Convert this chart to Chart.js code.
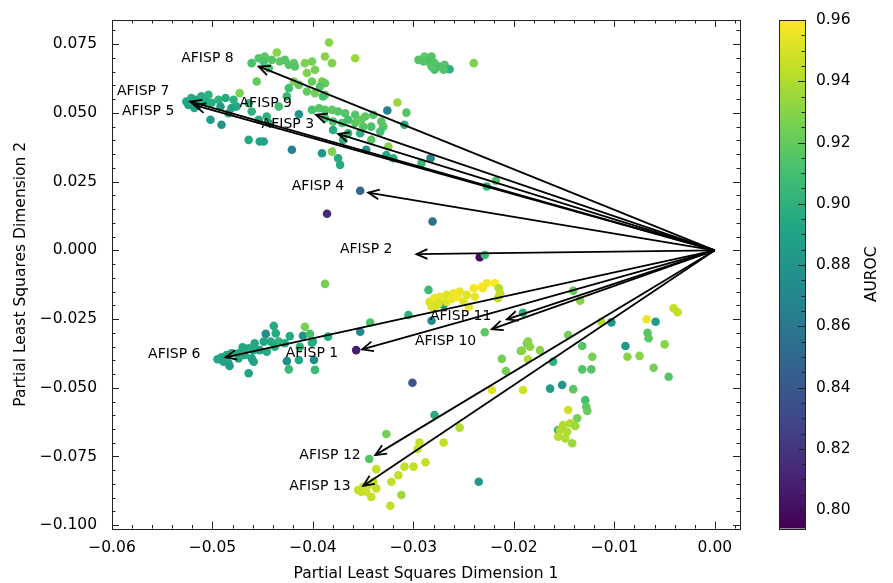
<!DOCTYPE html>
<html>
<head>
<meta charset="utf-8">
<script src="https://cdn.jsdelivr.net/npm/chart.js@4.4.1/dist/chart.umd.min.js"></script>
<style>
  html, body { margin: 0; padding: 0; background: #fff; }
  #wrap { width: 893px; height: 583px; }
</style>
</head>
<body>
<div id="wrap"><canvas id="pls" width="893" height="583"></canvas></div>
<script>
// PLS scores of every model (dimension 1, dimension 2) and its AUROC
const dim1 = [
  -0.0384, -0.0461, -0.0454, -0.0448, -0.0449, -0.0441, -0.0436, -0.0433, -0.0428, -0.0424,
  -0.0419, -0.0418, -0.0456, -0.0444, -0.0408, -0.0401, -0.0398, -0.0388, -0.0381, -0.0406,
  -0.0401, -0.0391, -0.0406, -0.0398, -0.0388, -0.0424, -0.0426, -0.0419, -0.0414, -0.0358,
  -0.0388, -0.0393, -0.0390, -0.0295, -0.0289, -0.0282, -0.0285, -0.0279, -0.0274, -0.0269,
  -0.0279, -0.0264, -0.0240, -0.0290, -0.0282, -0.0270, -0.0526, -0.0521, -0.0516, -0.0511,
  -0.0504, -0.0524, -0.0514, -0.0507, -0.0494, -0.0487, -0.0479, -0.0473, -0.0492, -0.0484,
  -0.0502, -0.0491, -0.0476, -0.0464, -0.0461, -0.0454, -0.0446, -0.0444, -0.0464, -0.0453,
  -0.0449, -0.0421, -0.0391, -0.0381, -0.0375, -0.0373, -0.0414, -0.0434, -0.0518, -0.0501,
  -0.0481, -0.0401, -0.0394, -0.0388, -0.0381, -0.0375, -0.0368, -0.0388, -0.0380, -0.0371,
  -0.0365, -0.0365, -0.0358, -0.0348, -0.0340, -0.0332, -0.0342, -0.0350, -0.0358, -0.0330,
  -0.0333, -0.0352, -0.0380, -0.0370, -0.0353, -0.0342, -0.0325, -0.0347, -0.0327, -0.0320,
  -0.0316, -0.0326, -0.0307, -0.0309, -0.0292, -0.0283, -0.0227, -0.0218, -0.0353, -0.0386,
  -0.0281, -0.0234, -0.0229, -0.0388, -0.0285, -0.0270, -0.0282, -0.0284, -0.0279, -0.0274,
  -0.0267, -0.0260, -0.0254, -0.0247, -0.0240, -0.0232, -0.0227, -0.0219, -0.0215, -0.0214,
  -0.0239, -0.0250, -0.0245, -0.0267, -0.0275, -0.0282, -0.0231, -0.0216, -0.0262, -0.0256,
  -0.0278, -0.0305, -0.0343, -0.0353, -0.0385, -0.0229, -0.0400, -0.0357, -0.0439, -0.0447,
  -0.0437, -0.0423, -0.0408, -0.0410, -0.0403, -0.0442, -0.0434, -0.0428, -0.0438, -0.0449,
  -0.0458, -0.0453, -0.0446, -0.0459, -0.0464, -0.0470, -0.0474, -0.0481, -0.0486, -0.0491,
  -0.0495, -0.0489, -0.0484, -0.0483, -0.0474, -0.0468, -0.0461, -0.0459, -0.0464, -0.0426,
  -0.0424, -0.0414, -0.0399, -0.0398, -0.0413, -0.0401, -0.0301, -0.0279, -0.0327, -0.0344,
  -0.0254, -0.0270, -0.0294, -0.0296, -0.0288, -0.0300, -0.0309, -0.0315, -0.0322, -0.0337,
  -0.0312, -0.0323, -0.0342, -0.0355, -0.0350, -0.0345, -0.0340, -0.0337, -0.0347, -0.0352,
  -0.0235, -0.0222, -0.0208, -0.0212, -0.0193, -0.0191, -0.0187, -0.0141, -0.0134, -0.0191,
  -0.0113, -0.0103, -0.0146, -0.0186, -0.0184, -0.0192, -0.0174, -0.0186, -0.0161, -0.0132,
  -0.0122, -0.0132, -0.0123, -0.0164, -0.0152, -0.0141, -0.0129, -0.0128, -0.0127, -0.0146,
  -0.0137, -0.0156, -0.0151, -0.0144, -0.0139, -0.0154, -0.0147, -0.0156, -0.0149, -0.0142,
  -0.0089, -0.0087, -0.0075, -0.0067, -0.0066, -0.0068, -0.0059, -0.0050, -0.0061, -0.0046,
  -0.0041, -0.0037
];
const dim2 = [
  0.0756, 0.0681, 0.0699, 0.0705, 0.0687, 0.0693, 0.0720, 0.0687, 0.0693, 0.0675,
  0.0681, 0.0669, 0.0614, 0.0663, 0.0681, 0.0687, 0.0657, 0.0705, 0.0681, 0.0645,
  0.0614, 0.0614, 0.0578, 0.0572, 0.0566, 0.0590, 0.0560, 0.0614, 0.0602, 0.0699,
  0.0608, 0.0596, 0.0560, 0.0693, 0.0705, 0.0705, 0.0687, 0.0681, 0.0669, 0.0675,
  0.0657, 0.0659, 0.0681, 0.0687, 0.0669, 0.0657, 0.0541, 0.0554, 0.0548, 0.0560,
  0.0566, 0.0529, 0.0529, 0.0541, 0.0548, 0.0554, 0.0548, 0.0572, 0.0523, 0.0499,
  0.0475, 0.0457, 0.0523, 0.0535, 0.0505, 0.0475, 0.0487, 0.0463, 0.0402, 0.0396,
  0.0396, 0.0366, 0.0353, 0.0359, 0.0335, 0.0311, 0.0495, 0.0523, 0.0518, 0.0537,
  0.0518, 0.0511, 0.0517, 0.0511, 0.0511, 0.0505, 0.0499, 0.0481, 0.0469, 0.0463,
  0.0475, 0.0426, 0.0493, 0.0487, 0.0493, 0.0469, 0.0450, 0.0450, 0.0463, 0.0450,
  0.0432, 0.0475, 0.0438, 0.0402, 0.0426, 0.0402, 0.0378, 0.0366, 0.0347, 0.0335,
  0.0538, 0.0509, 0.0501, 0.0457, 0.0317, 0.0335, 0.0232, 0.0253, 0.0217, 0.0133,
  0.0105, -0.0025, -0.0017, -0.0122, -0.0144, -0.0199, -0.0256, -0.0187, -0.0174, -0.0169,
  -0.0162, -0.0156, -0.0150, -0.0162, -0.0138, -0.0132, -0.0120, -0.0120, -0.0138, -0.0156,
  -0.0169, -0.0187, -0.0205, -0.0187, -0.0193, -0.0205, -0.0138, -0.0174, -0.0177, -0.0170,
  -0.0202, -0.0235, -0.0263, -0.0296, -0.0314, -0.0298, -0.0332, -0.0363, -0.0275, -0.0304,
  -0.0302, -0.0312, -0.0278, -0.0311, -0.0304, -0.0332, -0.0332, -0.0338, -0.0351, -0.0332,
  -0.0338, -0.0363, -0.0369, -0.0363, -0.0356, -0.0353, -0.0375, -0.0375, -0.0381, -0.0389,
  -0.0396, -0.0405, -0.0411, -0.0421, -0.0393, -0.0381, -0.0393, -0.0405, -0.0447, -0.0403,
  -0.0433, -0.0399, -0.0399, -0.0435, -0.0351, -0.0336, -0.0482, -0.0599, -0.0668, -0.0759,
  -0.0645, -0.0699, -0.0699, -0.0723, -0.0771, -0.0787, -0.0787, -0.0818, -0.0842, -0.0796,
  -0.0890, -0.0929, -0.0897, -0.0872, -0.0860, -0.0854, -0.0842, -0.0866, -0.0878, -0.0878,
  -0.0842, -0.0508, -0.0439, -0.0395, -0.0366, -0.0508, -0.0338, -0.0147, -0.0183, -0.0227,
  -0.0260, -0.0262, -0.0308, -0.0332, -0.0351, -0.0365, -0.0363, -0.0396, -0.0405, -0.0348,
  -0.0387, -0.0433, -0.0433, -0.0503, -0.0490, -0.0505, -0.0545, -0.0569, -0.0584, -0.0581,
  -0.0611, -0.0654, -0.0636, -0.0629, -0.0639, -0.0654, -0.0660, -0.0678, -0.0684, -0.0702,
  -0.0348, -0.0387, -0.0384, -0.0300, -0.0320, -0.0251, -0.0260, -0.0342, -0.0427, -0.0460,
  -0.0211, -0.0225
];
const auroc = [
  0.930, 0.912, 0.915, 0.918, 0.912, 0.915, 0.930, 0.918, 0.915, 0.915,
  0.920, 0.915, 0.920, 0.912, 0.928, 0.925, 0.925, 0.930, 0.928, 0.928,
  0.920, 0.925, 0.920, 0.925, 0.920, 0.910, 0.905, 0.928, 0.920, 0.935,
  0.920, 0.915, 0.910, 0.915, 0.918, 0.915, 0.912, 0.915, 0.912, 0.915,
  0.912, 0.900, 0.928, 0.915, 0.915, 0.915, 0.893, 0.895, 0.893, 0.897,
  0.900, 0.890, 0.893, 0.895, 0.900, 0.895, 0.900, 0.928, 0.885, 0.893,
  0.885, 0.880, 0.895, 0.900, 0.900, 0.895, 0.900, 0.890, 0.895, 0.890,
  0.888, 0.866, 0.880, 0.928, 0.895, 0.895, 0.880, 0.910, 0.890, 0.897,
  0.890, 0.912, 0.915, 0.915, 0.918, 0.915, 0.915, 0.910, 0.912, 0.915,
  0.910, 0.900, 0.915, 0.918, 0.915, 0.915, 0.912, 0.915, 0.918, 0.915,
  0.910, 0.920, 0.895, 0.900, 0.900, 0.918, 0.930, 0.880, 0.895, 0.900,
  0.935, 0.866, 0.915, 0.895, 0.905, 0.868, 0.905, 0.915, 0.849, 0.814,
  0.855, 0.796, 0.905, 0.925, 0.905, 0.885, 0.872, 0.952, 0.955, 0.955,
  0.952, 0.955, 0.955, 0.952, 0.958, 0.960, 0.958, 0.960, 0.940, 0.945,
  0.955, 0.952, 0.955, 0.952, 0.950, 0.952, 0.958, 0.945, 0.955, 0.958,
  0.950, 0.900, 0.912, 0.870, 0.895, 0.918, 0.900, 0.807, 0.895, 0.875,
  0.895, 0.895, 0.925, 0.880, 0.912, 0.895, 0.900, 0.895, 0.895, 0.893,
  0.893, 0.890, 0.895, 0.893, 0.895, 0.893, 0.893, 0.893, 0.890, 0.893,
  0.893, 0.890, 0.893, 0.885, 0.893, 0.895, 0.890, 0.890, 0.890, 0.875,
  0.905, 0.893, 0.875, 0.905, 0.900, 0.895, 0.838, 0.895, 0.925, 0.915,
  0.940, 0.945, 0.945, 0.945, 0.945, 0.945, 0.945, 0.945, 0.945, 0.945,
  0.935, 0.945, 0.945, 0.945, 0.948, 0.945, 0.945, 0.945, 0.948, 0.945,
  0.885, 0.952, 0.925, 0.925, 0.920, 0.948, 0.920, 0.920, 0.930, 0.900,
  0.940, 0.880, 0.925, 0.930, 0.930, 0.930, 0.930, 0.940, 0.900, 0.915,
  0.925, 0.915, 0.915, 0.885, 0.880, 0.918, 0.910, 0.918, 0.920, 0.948,
  0.925, 0.900, 0.940, 0.940, 0.935, 0.940, 0.940, 0.942, 0.940, 0.935,
  0.882, 0.930, 0.930, 0.915, 0.918, 0.955, 0.885, 0.930, 0.925, 0.915,
  0.945, 0.945
];

// loading arrows (tips) and their label positions
const afispNames = ['AFISP 1', 'AFISP 2', 'AFISP 3', 'AFISP 4', 'AFISP 5', 'AFISP 6', 'AFISP 7',
  'AFISP 8', 'AFISP 9', 'AFISP 10', 'AFISP 11', 'AFISP 12', 'AFISP 13'];
const afispTipX = [-0.0351, -0.0297, -0.0375, -0.0345, -0.0518, -0.0487, -0.0522,
  -0.0454, -0.0397, -0.0222, -0.0207, -0.0338, -0.0350];
const afispTipY = [-0.0360, -0.0014, 0.0424, 0.0210, 0.0528, -0.0389, 0.0541,
  0.0669, 0.0493, -0.0287, -0.0251, -0.0745, -0.0857];
const afispLabelX = [-0.0401, -0.0347, -0.0425, -0.0395, -0.0564, -0.0538, -0.0569,
  -0.0505, -0.0447, -0.0268, -0.0253, -0.0383, -0.0393];
const afispLabelY = [-0.0374, 0.0005, 0.0460, 0.0234, 0.0507, -0.0377, 0.0580,
  0.0697, 0.0533, -0.0330, -0.0239, -0.0745, -0.0858];

const xTicks = [-0.06, -0.05, -0.04, -0.03, -0.02, -0.01, 0.00];
const yTicks = [-0.100, -0.075, -0.050, -0.025, 0.000, 0.025, 0.050, 0.075];
const cbTicks = [0.80, 0.82, 0.84, 0.86, 0.88, 0.90, 0.92, 0.94, 0.96];
const cbMin = 0.794, cbMax = 0.96;

const viridisStops = [
  [68, 1, 84], [72, 36, 117], [65, 68, 135], [53, 95, 141], [42, 120, 142], [33, 145, 140],
  [34, 168, 132], [68, 191, 112], [122, 209, 81], [189, 223, 38], [253, 231, 37]
];
function viridis(t) {
  t = Math.min(1, Math.max(0, t));
  const f = t * 10, i = Math.min(9, Math.floor(f)), r = f - i;
  const a = viridisStops[i], b = viridisStops[i + 1];
  const c = a.map((v, k) => Math.round(v + (b[k] - v) * r));
  return `rgb(${c[0]},${c[1]},${c[2]})`;
}
const colorFor = v => viridis((v - cbMin) / (cbMax - cbMin));

const minus = s => s.replace('-', '\u2212');
const FONT = 'DejaVu Sans';

const overlay = {
  id: 'overlay',
  afterDatasetsDraw(chart) {
    const { ctx, chartArea: a, scales: { x, y } } = chart;
    const x0 = x.getPixelForValue(0), y0 = y.getPixelForValue(0);
    ctx.save();
    // arrows
    ctx.strokeStyle = '#000';
    ctx.lineWidth = 1.8;
    afispNames.forEach((name, i) => {
      const tx = x.getPixelForValue(afispTipX[i]), ty = y.getPixelForValue(afispTipY[i]);
      ctx.beginPath();
      ctx.moveTo(x0, y0);
      ctx.lineTo(tx, ty);
      ctx.stroke();
      const ang = Math.atan2(y0 - ty, x0 - tx), L = 12, th = 0.42;
      ctx.beginPath();
      ctx.moveTo(tx + L * Math.cos(ang + th), ty + L * Math.sin(ang + th));
      ctx.lineTo(tx, ty);
      ctx.lineTo(tx + L * Math.cos(ang - th), ty + L * Math.sin(ang - th));
      ctx.stroke();
    });
    ctx.fillStyle = '#000';
    ctx.font = `14px "${FONT}"`;
    ctx.textAlign = 'center';
    ctx.textBaseline = 'middle';
    afispNames.forEach((name, i) => {
      ctx.fillText(name, x.getPixelForValue(afispLabelX[i]), y.getPixelForValue(afispLabelY[i]));
    });
    // frame with inward ticks
    ctx.strokeStyle = '#222';
    ctx.lineWidth = 1;
    ctx.strokeRect(Math.round(a.left) + 0.5, Math.round(a.top) + 0.5,
      Math.round(a.right - a.left), Math.round(a.bottom - a.top));
    const xt = (v, len) => {
      const px = Math.round(x.getPixelForValue(v)) + 0.5;
      ctx.beginPath();
      ctx.moveTo(px, a.bottom); ctx.lineTo(px, a.bottom - len);
      ctx.moveTo(px, a.top); ctx.lineTo(px, a.top + len);
      ctx.stroke();
    };
    const yt = (v, len) => {
      const py = Math.round(y.getPixelForValue(v)) + 0.5;
      ctx.beginPath();
      ctx.moveTo(a.left, py); ctx.lineTo(a.left + len, py);
      ctx.moveTo(a.right, py); ctx.lineTo(a.right - len, py);
      ctx.stroke();
    };
    for (let v = x.min; v <= x.max + 1e-9; v += 0.002) xt(Math.round(v * 1000) / 1000, 3.5);
    xTicks.forEach(v => xt(v, 7));
    for (let v = -0.1; v <= y.max + 1e-9; v += 0.005) yt(Math.round(v * 1000) / 1000, 3.5);
    yTicks.forEach(v => yt(v, 7));
    ctx.restore();
  },
  afterDraw(chart) {
    const { ctx, chartArea: a, scales: { cb } } = chart;
    const left = 779, right = 805;
    const top = cb.getPixelForValue(cbMax), bottom = cb.getPixelForValue(cbMin);
    ctx.save();
    const g = ctx.createLinearGradient(0, bottom, 0, top);
    viridisStops.forEach((c, i) => g.addColorStop(i / 10, `rgb(${c[0]},${c[1]},${c[2]})`));
    ctx.fillStyle = g;
    ctx.fillRect(left, top, right - left, bottom - top);
    ctx.strokeStyle = '#222';
    ctx.lineWidth = 1;
    ctx.strokeRect(left + 0.5, Math.round(top) + 0.5, right - left, Math.round(bottom - top));
    const ct = (v, len) => {
      const py = Math.round(cb.getPixelForValue(v)) + 0.5;
      ctx.beginPath();
      ctx.moveTo(right, py); ctx.lineTo(right - len, py);
      ctx.stroke();
    };
    for (let v = 0.80; v < cbMax - 0.001; v += 0.005) ct(v, 3.5);
    cbTicks.forEach(v => ct(v, 7));
    ctx.fillStyle = '#000';
    ctx.font = `15.5px "${FONT}"`;
    ctx.translate(872, (a.top + a.bottom) / 2);
    ctx.rotate(-Math.PI / 2);
    ctx.textAlign = 'center';
    ctx.textBaseline = 'middle';
    ctx.fillText('AUROC', 0, 0);
    ctx.restore();
  }
};

// keep the label padding from pushing the plot area inward
const fixSide = w => s => { s.width = w; s.paddingTop = 0; s.paddingBottom = 0; };

Chart.defaults.font.family = FONT;
Chart.defaults.font.size = 15.5;
Chart.defaults.color = '#000';

new Chart(document.getElementById('pls'), {
  type: 'scatter',
  data: {
    datasets: [{
      label: 'models',
      data: dim1.map((v, i) => ({ x: v, y: dim2[i] })),
      pointBackgroundColor: auroc.map(colorFor),
      pointBorderWidth: 0,
      pointRadius: 4.3,
      pointHoverRadius: 4.3
    }]
  },
  options: {
    responsive: false,
    animation: false,
    devicePixelRatio: 1,
    layout: { padding: { top: 20, left: 0, right: 0, bottom: 0 } },
    plugins: { legend: { display: false }, tooltip: { enabled: false } },
    scales: {
      x: {
        type: 'linear', position: 'bottom', min: -0.06, max: 0.0025,
        afterBuildTicks: s => { s.ticks = xTicks.map(v => ({ value: v })); },
        afterFit: s => { s.height = 54.5; s.paddingLeft = 0; s.paddingRight = 0; },
        grid: { display: false, drawTicks: false },
        border: { display: false },
        ticks: { padding: 10, autoSkip: false, maxRotation: 0, callback: v => minus(v.toFixed(2)) },
        title: { display: true, text: 'Partial Least Squares Dimension 1', font: { size: 15.5 }, padding: { top: 0, bottom: 0 } }
      },
      y: {
        type: 'linear', position: 'left', min: -0.1012, max: 0.0838,
        afterBuildTicks: s => { s.ticks = yTicks.map(v => ({ value: v })); },
        afterFit: fixSide(112),
        grid: { display: false, drawTicks: false },
        border: { display: false },
        ticks: { padding: 15, autoSkip: false, callback: v => minus(v.toFixed(3)) },
        title: { display: true, text: 'Partial Least Squares Dimension 2', font: { size: 15.5 }, padding: { top: 12, bottom: 0 } }
      },
      cb: {
        type: 'linear', position: 'right', axis: 'y', min: cbMin, max: cbMax,
        afterBuildTicks: s => { s.ticks = cbTicks.map(v => ({ value: v })); },
        afterFit: fixSide(153),
        grid: { display: false, drawTicks: false },
        border: { display: false },
        ticks: { padding: 76, autoSkip: false, callback: v => v.toFixed(2) }
      }
    }
  },
  plugins: [overlay]
});
</script>
</body>
</html>
